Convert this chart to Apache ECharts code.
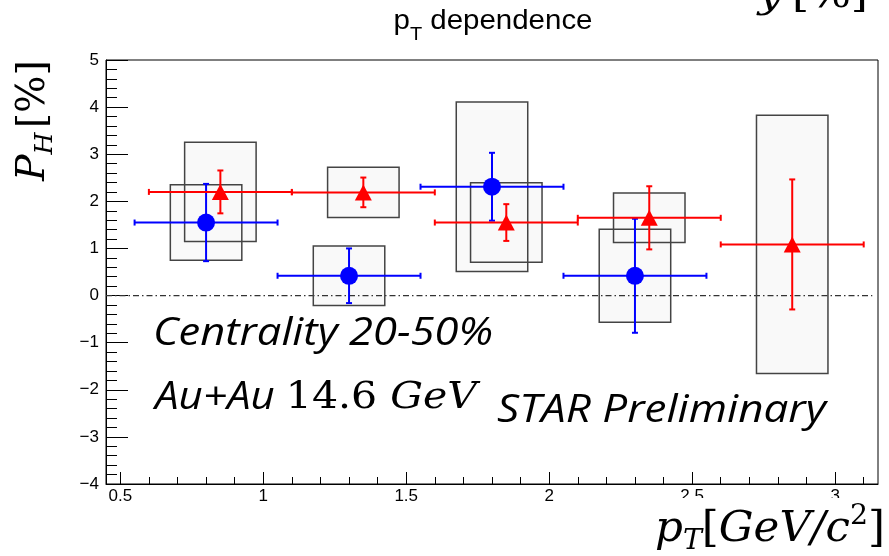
<!DOCTYPE html>
<html>
<head>
<meta charset="utf-8">
<script src="https://cdn.jsdelivr.net/npm/echarts@6/dist/echarts.min.js"></script>
<style>html,body{margin:0;padding:0;background:#fff}#c{width:889px;height:556px}</style>
</head>
<body>
<div id="c"></div>
<script>
// ---- data ----
const xMajorTicks = [0.5, 1, 1.5, 2, 2.5, 3];
const xMinorTicks = [0.5,0.6,0.7,0.8,0.9,1.0,1.1,1.2,1.3,1.4,1.5,1.6,1.7,1.8,1.9,2.0,2.1,2.2,2.3,2.4,2.5,2.6,2.7,2.8,2.9,3.0,3.1];
const yTickLabels = [-4,-3,-2,-1,0,1,2,3,4,5];

const blueX     = [0.80, 1.30, 1.80, 2.30];
const blueY     = [1.55, 0.42, 2.31, 0.42];
const blueXErr  = [0.25, 0.25, 0.25, 0.25];
const blueYErr  = [0.82, 0.58, 0.72, 1.21];
const blueSysX  = [0.125, 0.125, 0.125, 0.125];
const blueSysY  = [0.80, 0.63, 1.80, 0.985];

const redX      = [0.85, 1.35, 1.85, 2.35, 2.85];
const redY      = [2.20, 2.19, 1.55, 1.65, 1.085];
const redXErr   = [0.25, 0.25, 0.25, 0.25, 0.25];
const redYErr   = [0.455, 0.315, 0.39, 0.67, 1.38];
const redSysX   = [0.125, 0.125, 0.125, 0.125, 0.125];
const redSysY   = [1.055, 0.535, 0.845, 0.525, 2.74];

const xMin = 0.45, xMax = 3.15, yMin = -4, yMax = 5;

// ---- build ----
const blueErrData = blueX.map((x,i)=>[x, blueY[i], blueXErr[i], blueYErr[i]]);
const redErrData  = redX.map((x,i)=>[x, redY[i], redXErr[i], redYErr[i]]);
const sysData = blueX.map((x,i)=>[x, blueY[i], blueSysX[i], blueSysY[i]])
  .concat(redX.map((x,i)=>[x, redY[i], redSysX[i], redSysY[i]]));

function boxItem(fill, stroke) {
  return function(params, api) {
    const x = api.value(0), y = api.value(1), dx = api.value(2), dy = api.value(3);
    const p1 = api.coord([x - dx, y + dy]);
    const p2 = api.coord([x + dx, y - dy]);
    return {
      type: 'rect',
      shape: {x: p1[0], y: p1[1], width: p2[0]-p1[0], height: p2[1]-p1[1]},
      style: {fill: fill, stroke: stroke, lineWidth: stroke === 'none' ? 0 : 1.5}
    };
  };
}
function errItem(color) {
  return function(params, api) {
    const x = api.value(0), y = api.value(1), ex = api.value(2), ey = api.value(3);
    const l = api.coord([x - ex, y]), r = api.coord([x + ex, y]);
    const t = api.coord([x, y + ey]), b = api.coord([x, y - ey]);
    const cap = 3;
    const st = {stroke: color, lineWidth: 2};
    const line = (x1,y1,x2,y2)=>({type:'line', shape:{x1,y1,x2,y2}, style: st});
    return {type:'group', children:[
      line(l[0], l[1], r[0], r[1]),
      line(t[0], t[1], b[0], b[1]),
      line(l[0], l[1]-cap, l[0], l[1]+cap),
      line(r[0], r[1]-cap, r[0], r[1]+cap),
      line(t[0]-cap, t[1], t[0]+cap, t[1]),
      line(b[0]-cap, b[1], b[0]+cap, b[1])
    ]};
  };
}

// text helper: runs laid out along a baseline (optionally stretched to a target width)
const mctx = document.createElement('canvas').getContext('2d');
function measure(t, font){ mctx.font = font; return mctx.measureText(t).width; }
function runs(x0, baseline, parts, anchor, targetW) {
  let total = 0;
  parts.forEach(p => { p.w = measure(p.t, p.font) + (p.gap||0); total += p.w; });
  const k = targetW ? targetW / total : 1;
  const W = total * k;
  let x = anchor === 'right' ? x0 - W : anchor === 'center' ? x0 - W/2 : x0;
  const out = [];
  parts.forEach(p => {
    const size = parseFloat(p.font.match(/(\d+(\.\d+)?)px/)[1]);
    out.push({type:'text', x: x, y: baseline + (p.dy||0) - 0.30*size, z: 100, scaleX: k,
      style: {text: p.t, font: p.font, fill: p.fill || '#000', align: 'left', verticalAlign: 'middle'}});
    x += p.w * k;
  });
  return out;
}

const SANS = '"Liberation Sans", Arial, sans-serif';
const SERIF = '"DejaVu Serif", serif';
const CAL = '"Open Sans", Lato, sans-serif';

const graphics = [];
// white cover under x-axis title
graphics.push({type:'rect', shape:{x:640, y:498, width:249, height:58}, style:{fill:'#fff'}, z: 99});
// title
graphics.push(...runs(493, 30, [
  {t:'p', font:'28px ' + SANS},
  {t:'T', font:'19px ' + SANS, dy: 10},
  {t:' dependence', font:'28px ' + SANS}
], 'center', 199));
// x-axis title
graphics.push(...runs(885, 543, [
  {t:'p', font:'italic 43px ' + SERIF},
  {t:'T', font:'italic 28px ' + SERIF, dy: 7},
  {t:'[', font:'43px ' + SERIF},
  {t:'GeV/c', font:'italic 43px ' + SERIF},
  {t:'2', font:'28px ' + SERIF, dy: -18},
  {t:']', font:'43px ' + SERIF}
], 'right', 230));
// y-axis title (rotated)
graphics.push({type:'group', x: 46, y: 181, rotation: Math.PI/2, z: 100,
  children: runs(0, 0, [
    {t:'P', font:'italic 39px ' + SERIF},
    {t:'H', font:'italic 25px ' + SERIF, dy: 7, gap: 4},
    {t:'[%]', font:'39px ' + SERIF}
  ], 'left', 121)});
// cut-off text at top right
graphics.push(...runs(758, 9, [
  {t:'y', font:'italic 38px ' + SERIF, gap: 8},
  {t:'[%]', font:'38px ' + SERIF}
], 'left', 110));
// annotations
graphics.push(...runs(153, 346, [{t:'Centrality 20-50%', font:'italic 39px ' + CAL}], 'left', 340));
graphics.push(...runs(155, 410, [
  {t:'Au+Au ', font:'italic 39px ' + CAL},
  {t:'14.6 ', font:'38px ' + SERIF},
  {t:'GeV', font:'italic 38px ' + SERIF}
], 'left', 322));
graphics.push(...runs(497, 423, [{t:'STAR Preliminary', font:'italic 39px ' + CAL}], 'left', 329));

const chart = echarts.init(document.getElementById('c'), null, {renderer:'canvas'});
chart.setOption({
  animation: false,
  backgroundColor: '#fff',
  grid: {left: 106, right: 11, top: 60, bottom: 72, show: true, borderColor: '#000', borderWidth: 1, backgroundColor: 'transparent'},
  xAxis: [{
    type: 'value', min: xMin, max: xMax,
    axisLine: {show: true, onZero: false, lineStyle: {color: '#000', width: 1}},
    axisTick: {show: true, inside: true, length: 12, lineStyle: {color: '#000', width: 1}, customValues: xMajorTicks},
    axisLabel: {show: true, customValues: xMajorTicks, color: '#000', fontSize: 17, fontFamily: 'Liberation Sans', margin: 4,
      formatter: v => String(v)},
    splitLine: {show: false}
  }, {
    type: 'value', min: xMin, max: xMax, position: 'bottom',
    axisLine: {show: false, onZero: false},
    axisTick: {show: true, inside: true, length: 7, lineStyle: {color: '#000', width: 1}, customValues: xMinorTicks},
    axisLabel: {show: false},
    splitLine: {show: false}
  }],
  yAxis: [{
    type: 'value', min: yMin, max: yMax, interval: 1,
    axisLine: {show: true, onZero: false, lineStyle: {color: '#000', width: 1}},
    axisTick: {show: true, inside: true, length: 22, lineStyle: {color: '#000', width: 1}},
    minorTick: {show: true, splitNumber: 5, length: 11, lineStyle: {color: '#000', width: 1}},
    axisLabel: {color: '#000', fontSize: 17, fontFamily: 'Liberation Sans', margin: 7,
      customValues: yTickLabels,
      formatter: v => (v < 0 ? '\u2212' + Math.abs(v) : String(v))},
    splitLine: {show: false}
  }],
  series: [
    {type:'custom', name:'sysFill', renderItem: boxItem('#f9f9f9', 'none'), data: sysData, z: 1, silent: true},
    {type:'line', name:'zero', data: [[xMin, 0], [xMax - 0.02, 0]], symbol: 'none', z: 2, silent: true,
      lineStyle: {color: '#333', width: 1.3, type: [6, 3, 1.5, 3]}},
    {type:'custom', name:'sysStroke', renderItem: boxItem('none', '#444'), data: sysData, z: 3, silent: true},
    {type:'custom', name:'blueErr', renderItem: errItem('#0000ff'), data: blueErrData, z: 4, silent: true},
    {type:'custom', name:'redErr', renderItem: errItem('#ff0000'), data: redErrData, z: 4, silent: true},
    {type:'scatter', name:'blue', data: blueX.map((x,i)=>[x, blueY[i]]), symbol: 'circle', symbolSize: 18,
      itemStyle: {color: '#0000ff', opacity: 1}, z: 5, silent: true},
    {type:'scatter', name:'red', data: redX.map((x,i)=>[x, redY[i]]), symbol: 'triangle', symbolSize: [17, 16],
      itemStyle: {color: '#ff0000', opacity: 1}, z: 5, silent: true}
  ],
  graphic: graphics
});
</script>
</body>
</html>
